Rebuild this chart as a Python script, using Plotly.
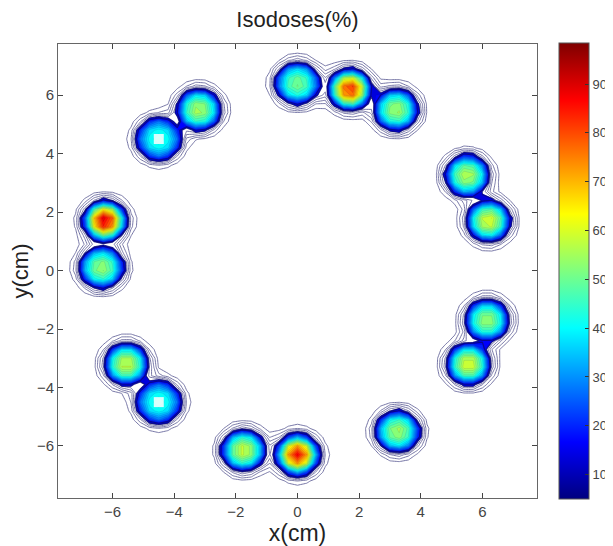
import numpy as np
import plotly.graph_objects as go

# ---- data ----
seed_x = [0.0, 1.7, 3.2, -3.2, -4.5, -6.25, -6.35, -5.55, -4.5, -1.75, 0.0, 3.25, 5.55, 6.15, 6.2, 5.5]
seed_y = [6.4, 6.2, 5.5, 5.5, 4.5, 1.7, 0.1, -3.2, -4.5, -6.15, -6.3, -5.5, -3.2, -1.7, 1.7, 3.25]
seed_peak = [52, 85, 56, 57, 44, 92, 55, 60, 44, 60, 88, 56, 62, 55, 62, 58]
seed_white_core = [False, False, False, False, True, False, False, False, True,
                   False, False, False, False, False, False, False]
edge_radius = 0.74      # cm, radius of the filled isodose edge
cutoff_radius = 0.76    # cm, where the dose drops off sharply
line_width_cm = 0.55    # spread of the overlaid (unfilled) isodose lines
line_levels = (4, 16, 3)
cbar_min, cbar_max = 5, 98.4
cbar_ticks = [10, 20, 30, 40, 50, 60, 70, 80, 90]
axis_ticks = [-6, -4, -2, 0, 2, 4, 6]

# ---- dose grids built from the seeds ----
h = 0.3
gx = np.arange(-7.8, 7.81, h)
gy = np.arange(-7.8, 7.81, h)
X, Y = np.meshgrid(gx, gy)
Z = np.zeros_like(X)
L = np.zeros_like(X)
fill_level = 12.0
for sx, sy, pk in zip(seed_x, seed_y, seed_peak):
    c_edge = np.exp(-(edge_radius / cutoff_radius) ** 8)
    s = edge_radius / np.sqrt(np.log(pk * c_edge / fill_level))
    r = np.hypot(X - sx, Y - sy)
    Z += pk * np.exp(-(r / s) ** 2) * np.exp(-(r / cutoff_radius) ** 8)
    L += 100 * np.exp(-(r / line_width_cm) ** 2)


def jet(t):
    t = min(max(t, 0.0), 1.0)
    r = min(max(1.5 - abs(4 * t - 3), 0), 1)
    g = min(max(1.5 - abs(4 * t - 2), 0), 1)
    b = min(max(1.5 - abs(4 * t - 1), 0), 1)
    return f"rgb({int(r*255)},{int(g*255)},{int(b*255)})"


def jet_val(v):
    return jet((v - cbar_min) / (cbar_max - cbar_min))


# filled contours: colorscale aligned to band midpoints (plotly fill mapping)
start, size, end = 12.0, 3.0, 96.0
nc = int(np.floor((end - start) / size)) + 1
fill_scale = [[0.0, "rgba(255,255,255,0)"]]
for i in range(nc):
    fill_scale.append([(i + 1) / nc, jet_val(start + i * size + size / 2)])

FONT = "Liberation Sans, Arial"
fig = go.Figure()

# overlaid isodose lines (unfilled)
fig.add_trace(go.Contour(
    x=gx, y=gy, z=L,
    autocontour=False,
    contours=dict(coloring="none", start=line_levels[0], end=line_levels[1], size=line_levels[2]),
    line=dict(color="rgba(95,95,150,0.85)", width=1, smoothing=0),
    showscale=False, hoverinfo="skip",
))

# filled isodoses (transparent outside the lowest level)
fig.add_trace(go.Contour(
    x=gx, y=gy, z=Z,
    autocontour=False,
    contours=dict(coloring="fill", start=start, end=end, size=size),
    colorscale=fill_scale,
    line=dict(color="rgba(0,0,90,0.15)", width=0.6, smoothing=0),
    showscale=False, hoverinfo="skip",
))

# dark outline of the lowest filled isodose
fig.add_trace(go.Contour(
    x=gx, y=gy, z=Z,
    autocontour=False,
    contours=dict(coloring="none", start=12.3, end=16.3, size=4),
    line=dict(color="rgba(10,10,110,0.75)", width=1.1, smoothing=0),
    showscale=False, hoverinfo="skip",
))

# white cores
wx = [x for x, w in zip(seed_x, seed_white_core) if w]
wy = [y for y, w in zip(seed_y, seed_white_core) if w]
fig.add_trace(go.Scatter(
    x=wx, y=wy, mode="markers",
    marker=dict(symbol="square", size=10, color="rgba(250,255,255,0.85)", line=dict(width=0)),
    hoverinfo="skip", showlegend=False,
))

# colorbar carrier
jet_scale = [[k / 32, jet(k / 32)] for k in range(33)]
fig.add_trace(go.Scatter(
    x=[None], y=[None], mode="markers",
    marker=dict(color=[cbar_min], colorscale=jet_scale, cmin=cbar_min, cmax=cbar_max,
                showscale=True,
                colorbar=dict(
                    thickness=30, thicknessmode="pixels",
                    len=456, lenmode="pixels", y=0.5, yanchor="middle", ypad=0,
                    x=1.046, xanchor="left", xpad=0,
                    outlinecolor="#555", outlinewidth=1,
                    tickvals=cbar_ticks, ticks="inside", ticklen=4, tickcolor="#333",
                    tickfont=dict(family=FONT, size=13, color="#444"),
                )),
    hoverinfo="skip", showlegend=False,
))

axis_common = dict(
    tickvals=axis_ticks, ticks="inside", ticklen=5, tickcolor="#444",
    mirror="ticks", showline=True, linecolor="#666", linewidth=1,
    showgrid=False, zeroline=False,
    tickfont=dict(family=FONT, size=15, color="#444"),
)

# the page body adds an 8 px offset, so the figure is 8 px smaller each way
W, H = 605, 538
fig.update_layout(
    width=W, height=H,
    margin=dict(l=50, r=76, t=36, b=48, autoexpand=False),
    paper_bgcolor="white", plot_bgcolor="white",
    showlegend=False,
    title=dict(text="Isodoses(%)", x=0.5, xref="paper", xanchor="center",
               y=1 - 11 / H, yanchor="middle",
               font=dict(family=FONT, size=22, color="#222")),
    xaxis=dict(range=[-7.77, 7.77], title=dict(text="x(cm)", standoff=6,
               font=dict(family=FONT, size=23, color="#222")),
               **axis_common),
    yaxis=dict(range=[-7.78, 7.75], title=dict(text="y(cm)", standoff=8,
               font=dict(family=FONT, size=22, color="#222")),
               **axis_common),
)

fig.write_html("out.html")
